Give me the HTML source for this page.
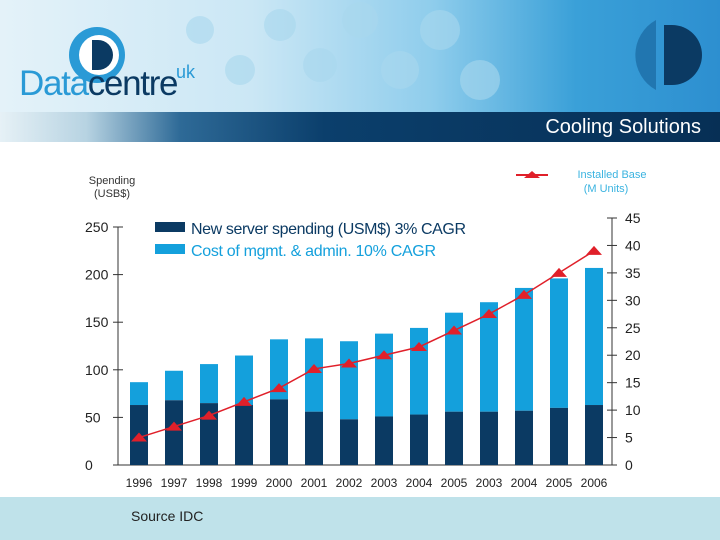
<!DOCTYPE html>
<html><head><meta charset="utf-8"><style>
body{margin:0;width:720px;height:540px;overflow:hidden;background:#fff;font-family:"Liberation Sans",sans-serif;position:relative}
#hdr{position:absolute;left:0;top:0;width:720px;height:112px;background:linear-gradient(90deg,#e4f2f9 0%,#cbe7f5 35%,#8fcdec 60%,#3aa0d8 80%,#2d8fd0 100%)}
#band{position:absolute;left:0;top:112px;width:720px;height:30px;background:linear-gradient(90deg,#e6f1f6 0%,#b7d3e2 12%,#2e6a97 25%,#0b3f6c 45%,#072f55 100%)}
#foot{position:absolute;left:0;top:497px;width:720px;height:43px;background:#bfe2ea}
</style></head><body>
<div id="hdr">
<svg width="720" height="112" style="position:absolute;left:0;top:0">
<g fill="#a9d8ee" opacity="0.6">
<circle cx="200" cy="30" r="14"/><circle cx="240" cy="70" r="15"/><circle cx="280" cy="25" r="16"/><circle cx="320" cy="65" r="17"/><circle cx="360" cy="20" r="18"/><circle cx="400" cy="70" r="19"/><circle cx="440" cy="30" r="20"/><circle cx="480" cy="80" r="20"/>
</g>
<circle cx="97" cy="55" r="28" fill="#2a9ad6"/>
<circle cx="99" cy="55" r="20" fill="#fff"/>
<path d="M92 40 h6 a15 15 0 0 1 0 30 h-6 z" fill="#0b3a63"/>
<path d="M656 20 a40 40 0 0 0 0 70 z" fill="#1d6ea6" opacity="0.8"/>
<path d="M664 25 h8 a30 30 0 0 1 0 60 h-8 z" fill="#0b3a63"/>
</svg>
<div style="position:absolute;left:19px;top:64px;font-size:35px;color:#2a9ad6;letter-spacing:-1.3px"><span style="color:#2a9ad6">Data</span><span style="color:#0b3a63">centre</span></div>
<div style="position:absolute;left:176px;top:62px;font-size:18px;color:#2a9ad6">uk</div>
</div>
<div id="band">
<div style="position:absolute;right:19px;top:4px;font-size:20px;color:#fff">Cooling Solutions</div>
</div>
<div id="foot">
<div style="position:absolute;left:131px;top:11px;font-size:14px;color:#222">Source IDC</div>
</div>
<svg id="chart" width="720" height="540" style="position:absolute;left:0;top:0">
<text x="112" y="184" font-size="11" text-anchor="middle" fill="#333">Spending</text>
<text x="112" y="197" font-size="11" text-anchor="middle" fill="#333">(USB$)</text>
<line x1="516" y1="175" x2="548" y2="175" stroke="#e0202a" stroke-width="2"/>
<polygon points="524,178 532,171 540,178" fill="#e0202a"/>
<text x="612" y="178" font-size="11" text-anchor="middle" fill="#3ab3e0">Installed Base</text>
<text x="606" y="192" font-size="11" text-anchor="middle" fill="#3ab3e0">(M Units)</text>
<rect x="155" y="222" width="30" height="10" fill="#0b3a63"/>
<text x="191" y="234" font-size="16" fill="#0b3a63" textLength="275">New server spending (USM$) 3% CAGR</text>
<rect x="155" y="244" width="30" height="10" fill="#14a0dc"/>
<text x="191" y="256" font-size="16" fill="#14a0dc" textLength="245">Cost of mgmt. &amp; admin. 10% CAGR</text>
<g id="g"></g>
</svg>
<script>
const categories=["1996","1997","1998","1999","2000","2001","2002","2003","2004","2005","2003","2004","2005","2006"];
const totalCost=[87,99,106,115,132,133,130,138,144,160,171,186,196,207];
const serverSpend=[63,68,65,63,69,56,48,51,53,56,56,57,60,63];
const installedBase=[5,7,9,11.5,14,17.5,18.5,20,21.5,24.5,27.5,31,35,39];
const leftTicks=[0,50,100,150,200,250];
const rightTicks=[0,5,10,15,20,25,30,35,40,45];
const NS="http://www.w3.org/2000/svg";
const g=document.getElementById('g');
const y0=465,yTop=227,rTop=218;
const yL=v=>y0-v*(y0-yTop)/250;
const yR=v=>y0-v*(y0-rTop)/45;
const xC=i=>139+i*35;
function mk(t,a){const e=document.createElementNS(NS,t);for(const k in a)e.setAttribute(k,a[k]);g.appendChild(e);return e;}
let e;
e=mk('line',{x1:118,y1:y0,x2:118,y2:yTop,stroke:'#333'});


e=mk('line',{x1:118,y1:y0,x2:612,y2:y0,stroke:'#333'});


e=mk('line',{x1:612,y1:y0,x2:612,y2:rTop,stroke:'#333'});


leftTicks.forEach(v=>{mk('line',{x1:113,x2:123,y1:yL(v),y2:yL(v),stroke:'#333'});
e=mk('text',{x:85,y:yL(v)+5,'font-size':14,fill:'#222','text-anchor':'start'});e.textContent=v;

});
rightTicks.forEach(v=>{mk('line',{x1:607,x2:617,y1:yR(v),y2:yR(v),stroke:'#333'});
e=mk('text',{x:625,y:yR(v)+5,'font-size':14,fill:'#222'});e.textContent=v;

});
categories.forEach((c,i)=>{const x=xC(i)-9;
e=mk('rect',{x:x,y:yL(totalCost[i]),width:18,height:yL(serverSpend[i])-yL(totalCost[i]),fill:'#14a0dc'});


e=mk('rect',{x:x,y:yL(serverSpend[i]),width:18,height:y0-yL(serverSpend[i]),fill:'#0b3a63'});


e=mk('text',{x:xC(i),y:487,'font-size':12,fill:'#222','text-anchor':'middle'});e.textContent=c;

});
e=mk('polyline',{points:installedBase.map((v,i)=>xC(i)+','+yR(v)).join(' '),fill:'none',stroke:'#e0202a','stroke-width':1.5});


installedBase.forEach((v,i)=>{const x=xC(i),y=yR(v);
e=mk('polygon',{points:(x-8)+','+(y+4)+' '+x+','+(y-5)+' '+(x+8)+','+(y+4),fill:'#e0202a'});

});
</script>
</body></html>
